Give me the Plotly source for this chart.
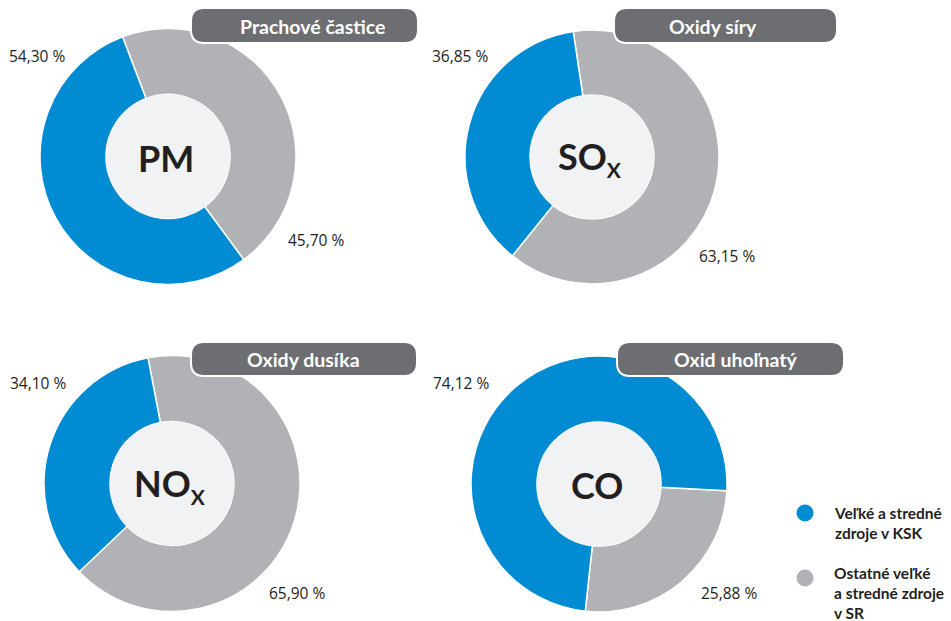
import plotly.graph_objects as go

W, H = 951, 621

# ---------------- data ----------------
pollutants = ["Prachové častice", "Oxidy síry", "Oxidy dusíka", "Oxid uhoľnatý"]
center_labels = ["PM", "SO<sub><span style=\"font-size:21px\">X</span></sub>",
                 "NO<sub><span style=\"font-size:21px\">X</span></sub>", "CO"]
series_names = ["Veľké a stredné zdroje v KSK", "Ostatné veľké a stredné zdroje v SR"]
ksk_share = [54.30, 36.85, 34.10, 74.12]
other_share = [45.70, 63.15, 65.90, 25.88]
legend_lines = ["Veľké a stredné<br>zdroje v KSK", "Ostatné veľké<br>a stredné zdroje<br>v SR"]

# ---------------- layout / style ----------------
BLUE = "#008bd2"
GREY = "#b1b2b5"
PILL = "#6d6e71"
INNER = "#f1f2f4"
DARK = "#231f20"

centers = [(168, 156.5), (592, 157), (172, 483.5), (599, 484)]
radii = [128, 127, 128, 128]
inner_r = 62
start_angles = [-20.8, -8.5, -10.8, 93]
pills = [(191, 418, 8, 43), (614, 837, 8, 43), (191, 417, 342, 376), (617, 844, 342, 376)]
pill_text_pos = [(312, 26), (713, 26), (303, 359), (735, 359)]
pct_pos_ksk = [(37, 55.5), (460, 56), (38, 383), (461, 383)]
pct_pos_other = [(316, 240), (727, 256), (297, 593), (729, 593)]
legend_dot = [(805, 513), (805, 578)]
legend_text = [(832, 523), (832, 593)]


def fmt(v):
    return f"{v:.2f}".replace(".", ",") + " %"


def rounded_rect(x0, x1, y0, y1, r):
    return (f"M{x0 + r},{y0} L{x1 - r},{y0} Q{x1},{y0} {x1},{y0 + r} "
            f"L{x1},{y1 - r} Q{x1},{y1} {x1 - r},{y1} L{x0 + r},{y1} "
            f"Q{x0},{y1} {x0},{y1 - r} L{x0},{y0 + r} Q{x0},{y0} {x0 + r},{y0} Z")


fig = go.Figure()

# pixel-like hidden axes for overlay elements
fig.update_xaxes(range=[0, W], visible=False, fixedrange=True)
fig.update_yaxes(range=[H, 0], visible=False, fixedrange=True)

shapes = []
annotations = []

for i in range(4):
    cx, cy = centers[i]
    r = radii[i]
    fig.add_trace(go.Pie(
        labels=[series_names[1], series_names[0]],
        values=[other_share[i], ksk_share[i]],
        marker=dict(colors=[GREY, BLUE], line=dict(color="white", width=1.5)),
        hole=inner_r / r,
        sort=False,
        direction="clockwise",
        rotation=start_angles[i],
        textinfo="none",
        hoverinfo="label+percent",
        showlegend=False,
        domain=dict(x=[(cx - r) / W, (cx + r) / W], y=[1 - (cy + r) / H, 1 - (cy - r) / H]),
    ))
    # inner circle
    shapes.append(dict(type="circle", xref="x", yref="y", layer="above",
                       x0=cx - inner_r, x1=cx + inner_r, y0=cy - inner_r, y1=cy + inner_r,
                       fillcolor=INNER, line=dict(width=0)))
    # title pill
    x0, x1, y0, y1 = pills[i]
    shapes.append(dict(type="path", xref="x", yref="y", layer="above",
                       path=rounded_rect(x0, x1, y0, y1, 13),
                       fillcolor=PILL, line=dict(color="white", width=2)))
    tx, ty = pill_text_pos[i]
    annotations.append(dict(x=tx, y=ty, xref="x", yref="y", text=f"<b>{pollutants[i]}</b>",
                            showarrow=False, xanchor="center", yanchor="middle",
                            font=dict(family="Lato", size=19.5, color="white")))
    # center label
    annotations.append(dict(x=cx - 2, y=cy + 1, xref="x", yref="y", text=f"<b>{center_labels[i]}</b>",
                            showarrow=False, xanchor="center", yanchor="middle",
                            font=dict(family="Lato", size=36, color=DARK)))
    # percentages
    px, py = pct_pos_ksk[i]
    annotations.append(dict(x=px, y=py, xref="x", yref="y", text=fmt(ksk_share[i]),
                            showarrow=False, xanchor="center", yanchor="middle",
                            font=dict(family="Open Sans", size=15.5, color=DARK)))
    px, py = pct_pos_other[i]
    annotations.append(dict(x=px, y=py, xref="x", yref="y", text=fmt(other_share[i]),
                            showarrow=False, xanchor="center", yanchor="middle",
                            font=dict(family="Open Sans", size=15.5, color=DARK)))

# legend
fig.add_trace(go.Scatter(
    x=[p[0] for p in legend_dot], y=[p[1] for p in legend_dot],
    mode="markers", marker=dict(size=17, color=[BLUE, GREY]),
    hoverinfo="skip", showlegend=False,
))
for i in range(2):
    lx, ly = legend_text[i]
    annotations.append(dict(x=lx, y=ly, xref="x", yref="y", text=f"<b>{legend_lines[i]}</b>",
                            showarrow=False, xanchor="left", yanchor="middle", align="left",
                            font=dict(family="Lato", size=15.5, color=DARK)))

fig.update_layout(
    width=W, height=H,
    margin=dict(l=0, r=0, t=0, b=0),
    paper_bgcolor="white", plot_bgcolor="white",
    shapes=shapes, annotations=annotations,
    showlegend=False,
)

fig.write_html("out.html", config={"displayModeBar": False},
               post_script="document.body.style.margin='0';")
